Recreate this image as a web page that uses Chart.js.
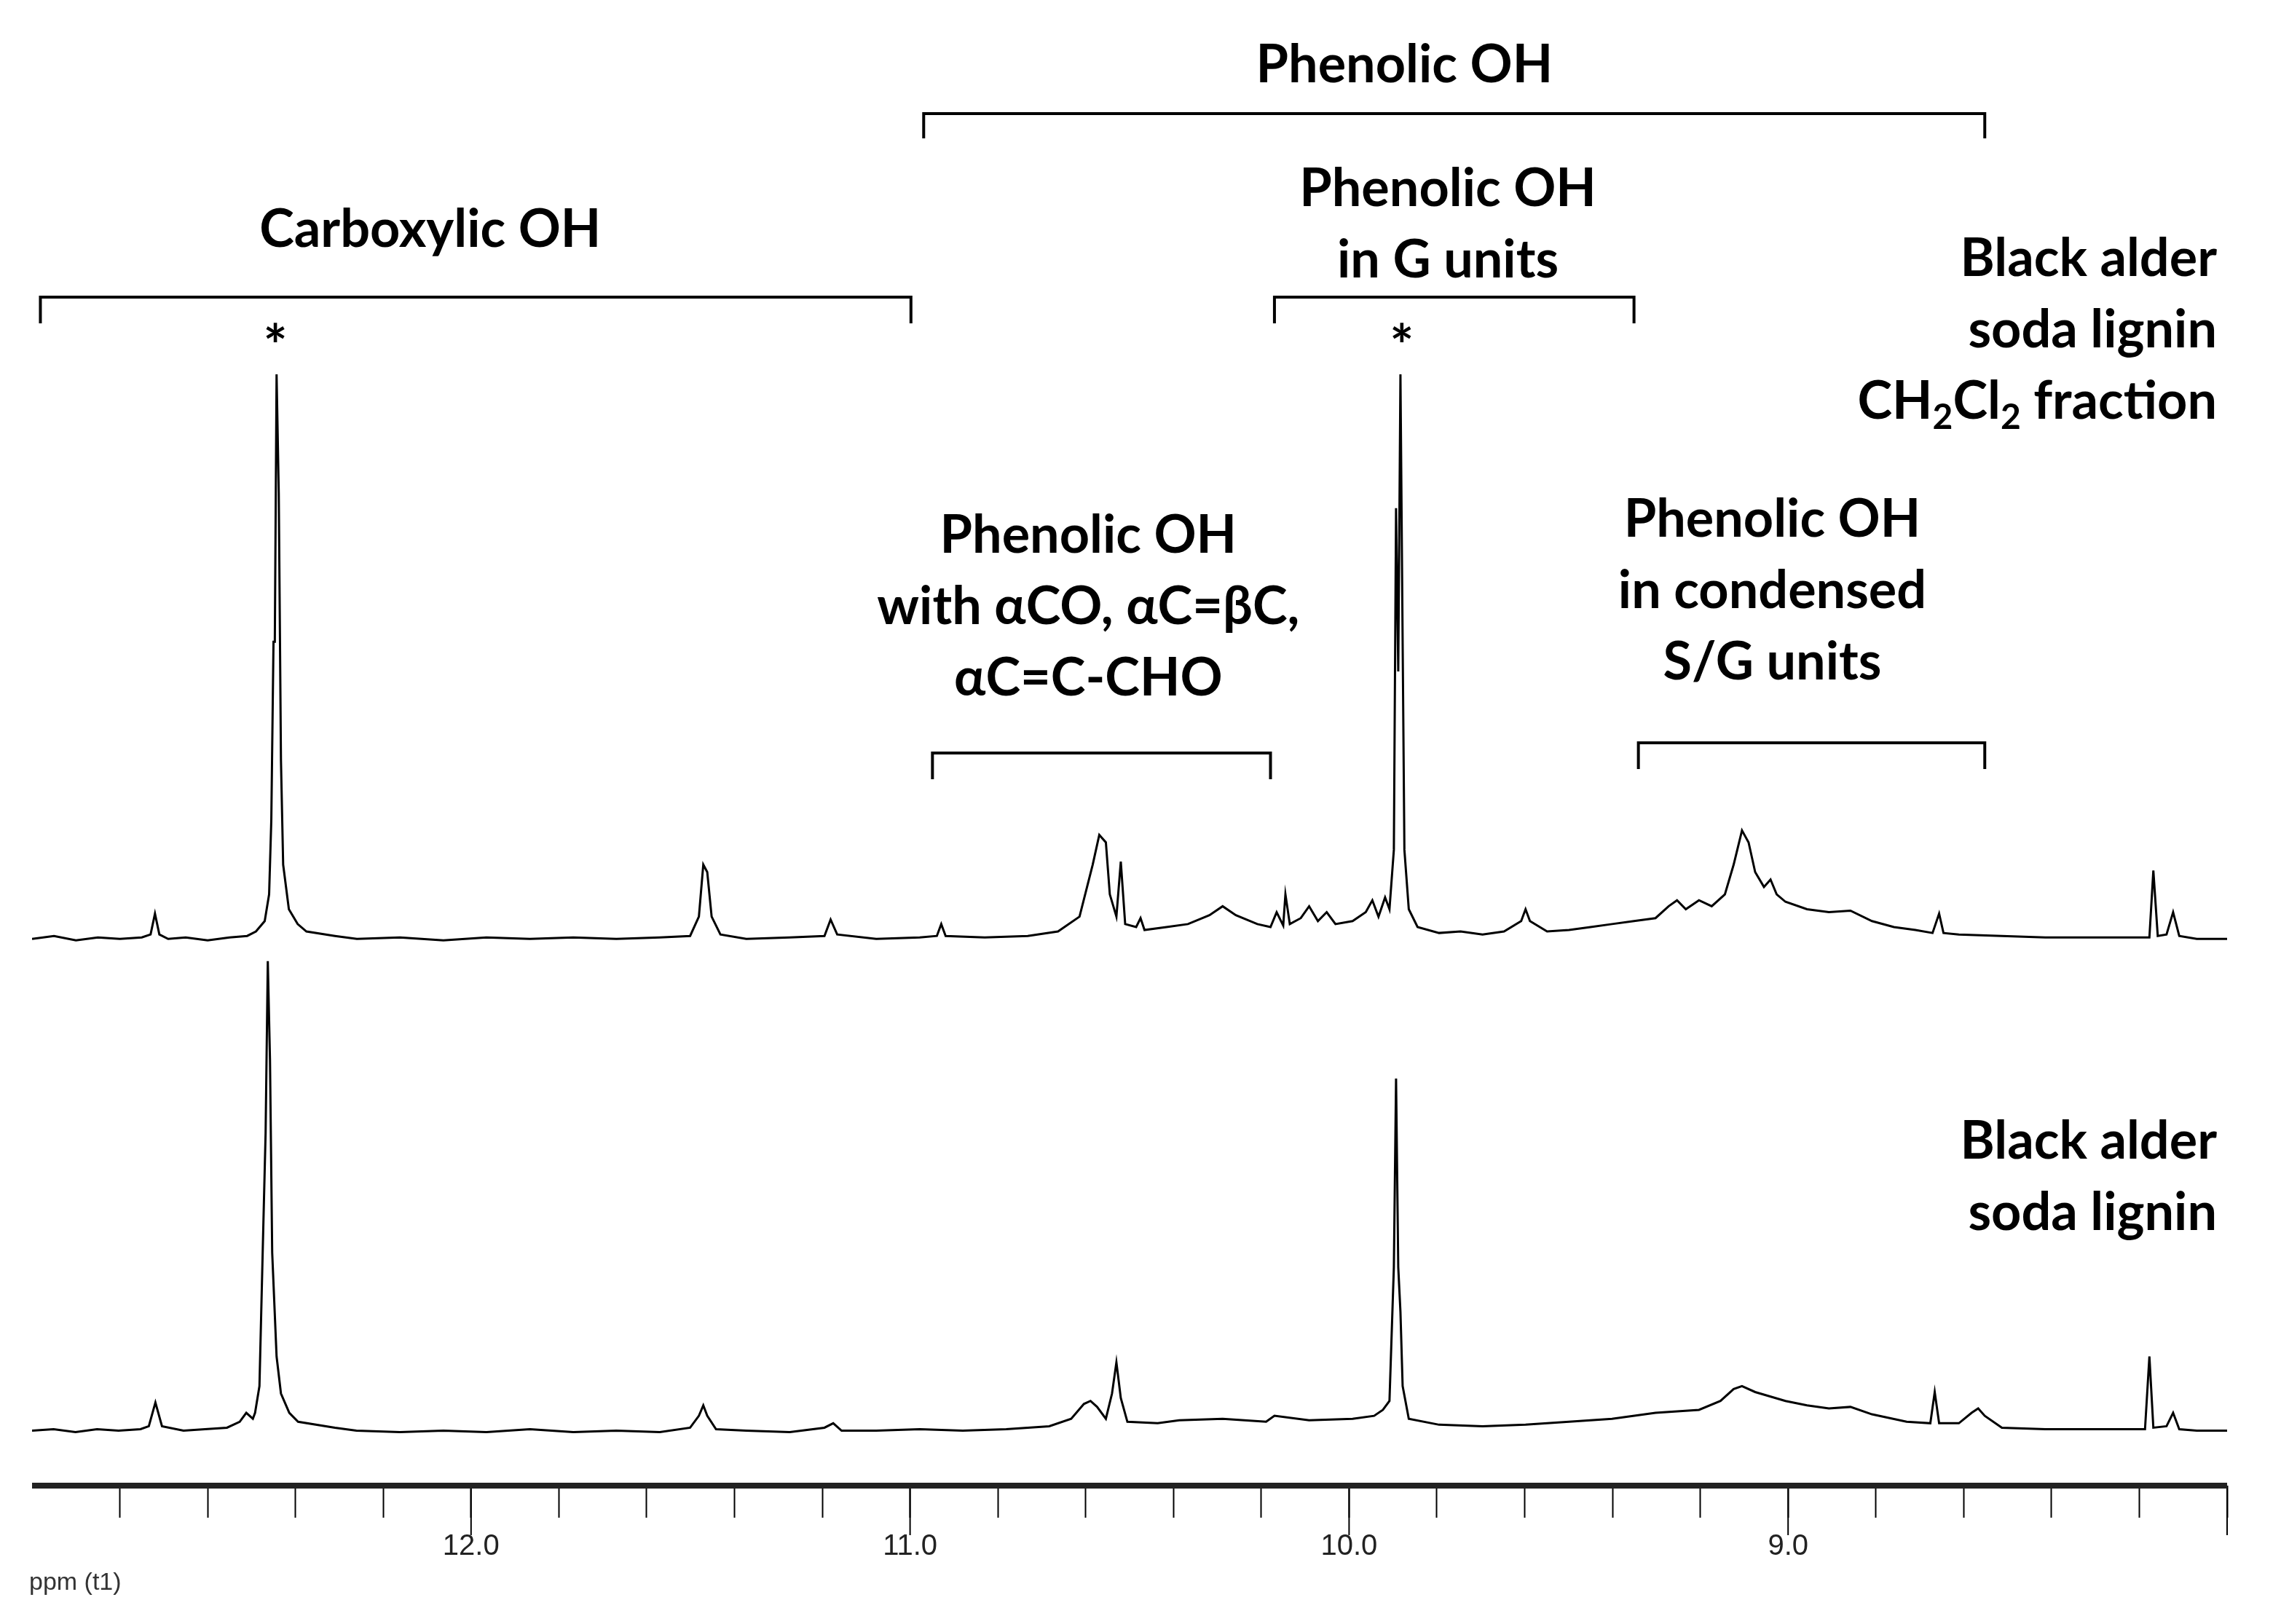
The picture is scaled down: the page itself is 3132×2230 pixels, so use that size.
<!DOCTYPE html>
<html>
<head>
<meta charset="utf-8">
<script src="https://cdn.jsdelivr.net/npm/chart.js@4.4.0/dist/chart.umd.min.js"></script>
<style>
  html, body { margin: 0; padding: 0; background: #fff; }
  #wrap { width: 3132px; height: 2230px; }
</style>
</head>
<body>
<div id="wrap"><canvas id="nmr" width="3132" height="2230"></canvas></div>
<script>
// ppm / intensity (intensity above each baseline)
const ppmTicks = [12.8, 12.6, 12.4, 12.2, 12.0, 11.8, 11.6, 11.4, 11.2, 11.0, 10.8, 10.6, 10.4, 10.2, 10.0,
  9.8, 9.6, 9.4, 9.2, 9.0, 8.8, 8.6, 8.4, 8.2, 8.0];
const majorTicks = [12, 11, 10, 9, 8];
const tickLabels = ['12.0', '11.0', '10.0', '9.0'];

const fractionSpectrum = [
  [13.0,0],[12.95,0.2],[12.9,-0.1],[12.85,0.1],[12.8,0],[12.75,0.1],[12.73,0.3],[12.72,1.7],[12.71,0.3],
  [12.69,0],[12.65,0.1],[12.6,-0.1],[12.55,0.1],[12.51,0.2],[12.49,0.5],[12.47,1.2],[12.46,3],[12.455,8],
  [12.45,20],[12.447,20],[12.443,38],[12.438,30],[12.433,12],[12.428,5],[12.415,2],[12.395,1],[12.375,0.5],
  [12.31,0.2],[12.26,0],[12.162,0.1],[12.063,-0.1],[11.965,0.1],[11.866,0],[11.767,0.1],[11.669,0],[11.57,0.1],
  [11.501,0.2],[11.481,1.5],[11.471,5],[11.462,4.5],[11.452,1.5],[11.432,0.3],[11.373,0],[11.274,0.1],[11.195,0.2],
  [11.181,1.3],[11.166,0.3],[11.077,0],[10.978,0.1],[10.939,0.2],[10.929,1],[10.919,0.2],[10.83,0.1],[10.732,0.2],
  [10.663,0.5],[10.614,1.5],[10.584,5],[10.569,7],[10.554,6.5],[10.545,3],[10.53,1.5],[10.52,5.2],[10.51,1],
  [10.485,0.8],[10.475,1.4],[10.466,0.6],[10.416,0.8],[10.367,1],[10.318,1.6],[10.288,2.2],[10.258,1.6],[10.209,1],
  [10.179,0.8],[10.165,1.8],[10.15,0.9],[10.145,3],[10.135,1],[10.11,1.4],[10.091,2.2],[10.071,1.2],[10.051,1.8],
  [10.031,1],[9.992,1.2],[9.962,1.8],[9.947,2.6],[9.933,1.5],[9.918,2.8],[9.908,2],[9.898,6],[9.893,29],
  [9.888,18],[9.883,38],[9.878,20],[9.874,6],[9.864,2],[9.844,0.8],[9.795,0.4],[9.746,0.5],[9.696,0.3],[9.647,0.5],
  [9.608,1.2],[9.598,2],[9.588,1.2],[9.549,0.5],[9.499,0.6],[9.45,0.8],[9.401,1],[9.351,1.2],[9.302,1.4],[9.272,2.2],
  [9.253,2.6],[9.233,2],[9.203,2.6],[9.174,2.2],[9.144,3],[9.124,5],[9.105,7.3],[9.09,6.5],[9.075,4.5],[9.055,3.5],
  [9.04,4],[9.026,3],[9.006,2.5],[8.957,2],[8.907,1.8],[8.858,1.9],[8.809,1.2],[8.759,0.8],[8.71,0.6],[8.671,0.4],
  [8.656,1.7],[8.646,0.4],[8.611,0.3],[8.513,0.2],[8.414,0.1],[8.316,0.1],[8.217,0.1],[8.177,0.1],[8.168,4.6],
  [8.158,0.2],[8.138,0.3],[8.123,1.8],[8.109,0.2],[8.069,0],[8.0,0]
];

const ligninSpectrum = [
  [13.0,0],[12.951,0.1],[12.901,-0.1],[12.852,0.1],[12.803,0],[12.753,0.1],[12.734,0.3],[12.719,1.9],[12.704,0.3],
  [12.655,0],[12.606,0.1],[12.556,0.2],[12.527,0.6],[12.512,1.2],[12.497,0.8],[12.492,1.2],[12.482,3],[12.473,14],
  [12.468,20],[12.463,31.6],[12.458,25],[12.453,12],[12.443,5],[12.433,2.5],[12.414,1.2],[12.394,0.6],
  [12.31,0.2],[12.261,0],[12.162,-0.1],[12.063,0],[11.965,-0.1],[11.866,0.1],[11.767,-0.1],[11.669,0],[11.57,-0.1],
  [11.501,0.2],[11.481,1],[11.471,1.7],[11.462,1],[11.442,0.1],[11.373,0],[11.274,-0.1],[11.195,0.2],[11.175,0.5],
  [11.156,0],[11.077,0],[10.978,0.1],[10.88,0],[10.781,0.1],[10.683,0.3],[10.633,0.8],[10.604,1.8],[10.589,2],
  [10.574,1.6],[10.554,0.8],[10.54,2.5],[10.53,4.6],[10.52,2.2],[10.505,0.6],[10.436,0.5],[10.387,0.7],
  [10.288,0.8],[10.189,0.6],[10.17,1],[10.091,0.7],[9.992,0.8],[9.943,1],[9.923,1.4],[9.908,2],[9.898,11],
  [9.893,23.7],[9.888,11],[9.883,8],[9.878,3],[9.864,0.8],[9.795,0.4],[9.696,0.3],[9.598,0.4],[9.499,0.6],[9.401,0.8],
  [9.302,1.2],[9.203,1.4],[9.154,2],[9.124,2.8],[9.105,3],[9.075,2.6],[9.006,2],[8.957,1.7],[8.907,1.5],[8.858,1.6],
  [8.809,1.1],[8.73,0.6],[8.676,0.5],[8.666,2.6],[8.656,0.5],[8.611,0.5],[8.582,1.2],[8.567,1.5],[8.552,1],
  [8.513,0.2],[8.414,0.1],[8.316,0.1],[8.217,0.1],[8.187,0.1],[8.177,5],[8.168,0.2],[8.138,0.3],[8.123,1.2],
  [8.109,0.1],[8.069,0],[8.0,0]
];

const fractionBaseline = 36.8;
const ligninBaseline = 3.7;

const ppmMin = 8.0;
const ppmMax = 13.0;

// brackets: [fromPpm, toPpm, bar y, leg end y]
const brackets = [
  [12.981, 10.998, 408, 444],
  [10.969, 8.552, 156, 190],
  [10.170, 9.351, 408, 444],
  [10.949, 10.179, 1034, 1070],
  [9.341, 8.552, 1020, 1056]
];
// labels: [center ppm, lines, first line y]
const labels = [
  [12.093, ['Carboxylic OH'], 316],
  [9.874, ['Phenolic OH'], 90],
  [9.775, ['Phenolic OH', 'in G units'], 260],
  [10.594, ['Phenolic OH', 'with \u03B1CO, \u03B1C=\u03B2C,', '\u03B1C=C-CHO'], 736],
  [9.036, ['Phenolic OH', 'in condensed', 'S/G units'], 714]
];
// right-aligned sample names: [lines, first line y]
const samples = [
  [['Black alder', 'soda lignin', null], 356],
  [['Black alder', 'soda lignin'], 1568]
];
const sampleRight = 3044;
const stars = [12.446, 9.88];

const FONT = 'bold 72px Lato, "Noto Sans", sans-serif';
const LINE = 98;

function lift(points, base) {
  return points.map(p => ({ x: p[0], y: p[1] + base }));
}

const overlay = {
  id: 'overlay',
  afterDraw(chart) {
    const ctx = chart.ctx;
    const xs = chart.scales.x;
    const area = chart.chartArea;
    ctx.save();
    // major ticks longer
    ctx.strokeStyle = '#000';
    ctx.lineWidth = 2;
    majorTicks.forEach(v => {
      const px = xs.getPixelForValue(v);
      ctx.beginPath();
      ctx.moveTo(px, area.bottom);
      ctx.lineTo(px, area.bottom + 68);
      ctx.stroke();
    });
    // axis line
    ctx.strokeStyle = '#222';
    ctx.lineWidth = 8;
    ctx.beginPath();
    ctx.moveTo(area.left, area.bottom);
    ctx.lineTo(area.right, area.bottom);
    ctx.stroke();

    ctx.strokeStyle = '#000';
    ctx.lineWidth = 4;
    brackets.forEach(b => {
      const x1 = xs.getPixelForValue(b[0]);
      const x2 = xs.getPixelForValue(b[1]);
      ctx.beginPath();
      ctx.moveTo(x1, b[3]);
      ctx.lineTo(x1, b[2]);
      ctx.lineTo(x2, b[2]);
      ctx.lineTo(x2, b[3]);
      ctx.stroke();
    });

    ctx.fillStyle = '#000';
    ctx.font = FONT;
    ctx.textAlign = 'center';
    ctx.textBaseline = 'middle';
    labels.forEach(l => {
      const cx = xs.getPixelForValue(l[0]);
      l[1].forEach((t, i) => ctx.fillText(t, cx, l[2] + i * LINE));
    });
    ctx.textAlign = 'right';
    samples.forEach(s => {
      s[0].forEach((t, i) => {
        const y = s[1] + i * LINE;
        if (t === null) drawFormula(ctx, sampleRight, y);
        else ctx.fillText(t, sampleRight, y);
      });
    });
    ctx.textAlign = 'center';
    ctx.font = 'bold 78px Lato, "Noto Sans", sans-serif';
    stars.forEach(s => {
      ctx.fillText('*', xs.getPixelForValue(s), 478);
    });

    ctx.font = '34px "Liberation Sans Narrow", "Liberation Sans", Arial, sans-serif';
    ctx.fillStyle = '#333';
    ctx.textAlign = 'left';
    ctx.fillText('ppm (t1)', 40, 2174);
    ctx.restore();
  }
};

// "CH2Cl2 fraction" with subscripts, right edge at rx
function drawFormula(ctx, rx, y) {
  const big = FONT;
  const small = 'bold 48px Lato, "Noto Sans", sans-serif';
  const parts = [['CH', big, 0], ['2', small, 22], ['Cl', big, 0], ['2', small, 22], [' fraction', big, 0]];
  let total = 0;
  parts.forEach(p => { ctx.font = p[1]; total += ctx.measureText(p[0]).width; });
  let x = rx - total;
  ctx.textAlign = 'left';
  parts.forEach(p => {
    ctx.font = p[1];
    ctx.fillText(p[0], x, y + p[2]);
    x += ctx.measureText(p[0]).width;
  });
  ctx.textAlign = 'right';
  ctx.font = big;
}

new Chart(document.getElementById('nmr'), {
  type: 'line',
  data: {
    datasets: [
      { label: 'CH2Cl2 fraction', data: lift(fractionSpectrum, fractionBaseline) },
      { label: 'soda lignin', data: lift(ligninSpectrum, ligninBaseline) }
    ]
  },
  options: {
    responsive: false,
    animation: false,
    elements: {
      line: { borderColor: '#000', borderWidth: 3, tension: 0, fill: false },
      point: { radius: 0 }
    },
    layout: { padding: { left: 44, right: 74, top: 0, bottom: 0 } },
    plugins: { legend: { display: false }, tooltip: { enabled: false } },
    scales: {
      x: {
        type: 'linear',
        reverse: true,
        min: ppmMin,
        max: ppmMax,
        afterBuildTicks: s => { s.ticks = ppmTicks.map(v => ({ value: v })); },
        afterFit: s => { s.height = 190; },
        border: { display: false },
        grid: { drawOnChartArea: false, tickLength: 44, tickWidth: 2, color: '#000' },
        ticks: {
          color: '#222',
          font: { size: 40, family: '"Liberation Sans Narrow", "Liberation Sans", Arial, sans-serif' },
          padding: 16,
          maxRotation: 0,
          autoSkip: false,
          callback: v => {
            const t = v.toFixed(1);
            return tickLabels.includes(t) ? t : '';
          }
        }
      },
      y: { display: false, min: 0, max: 100 }
    }
  },
  plugins: [overlay]
});
</script>
</body>
</html>
